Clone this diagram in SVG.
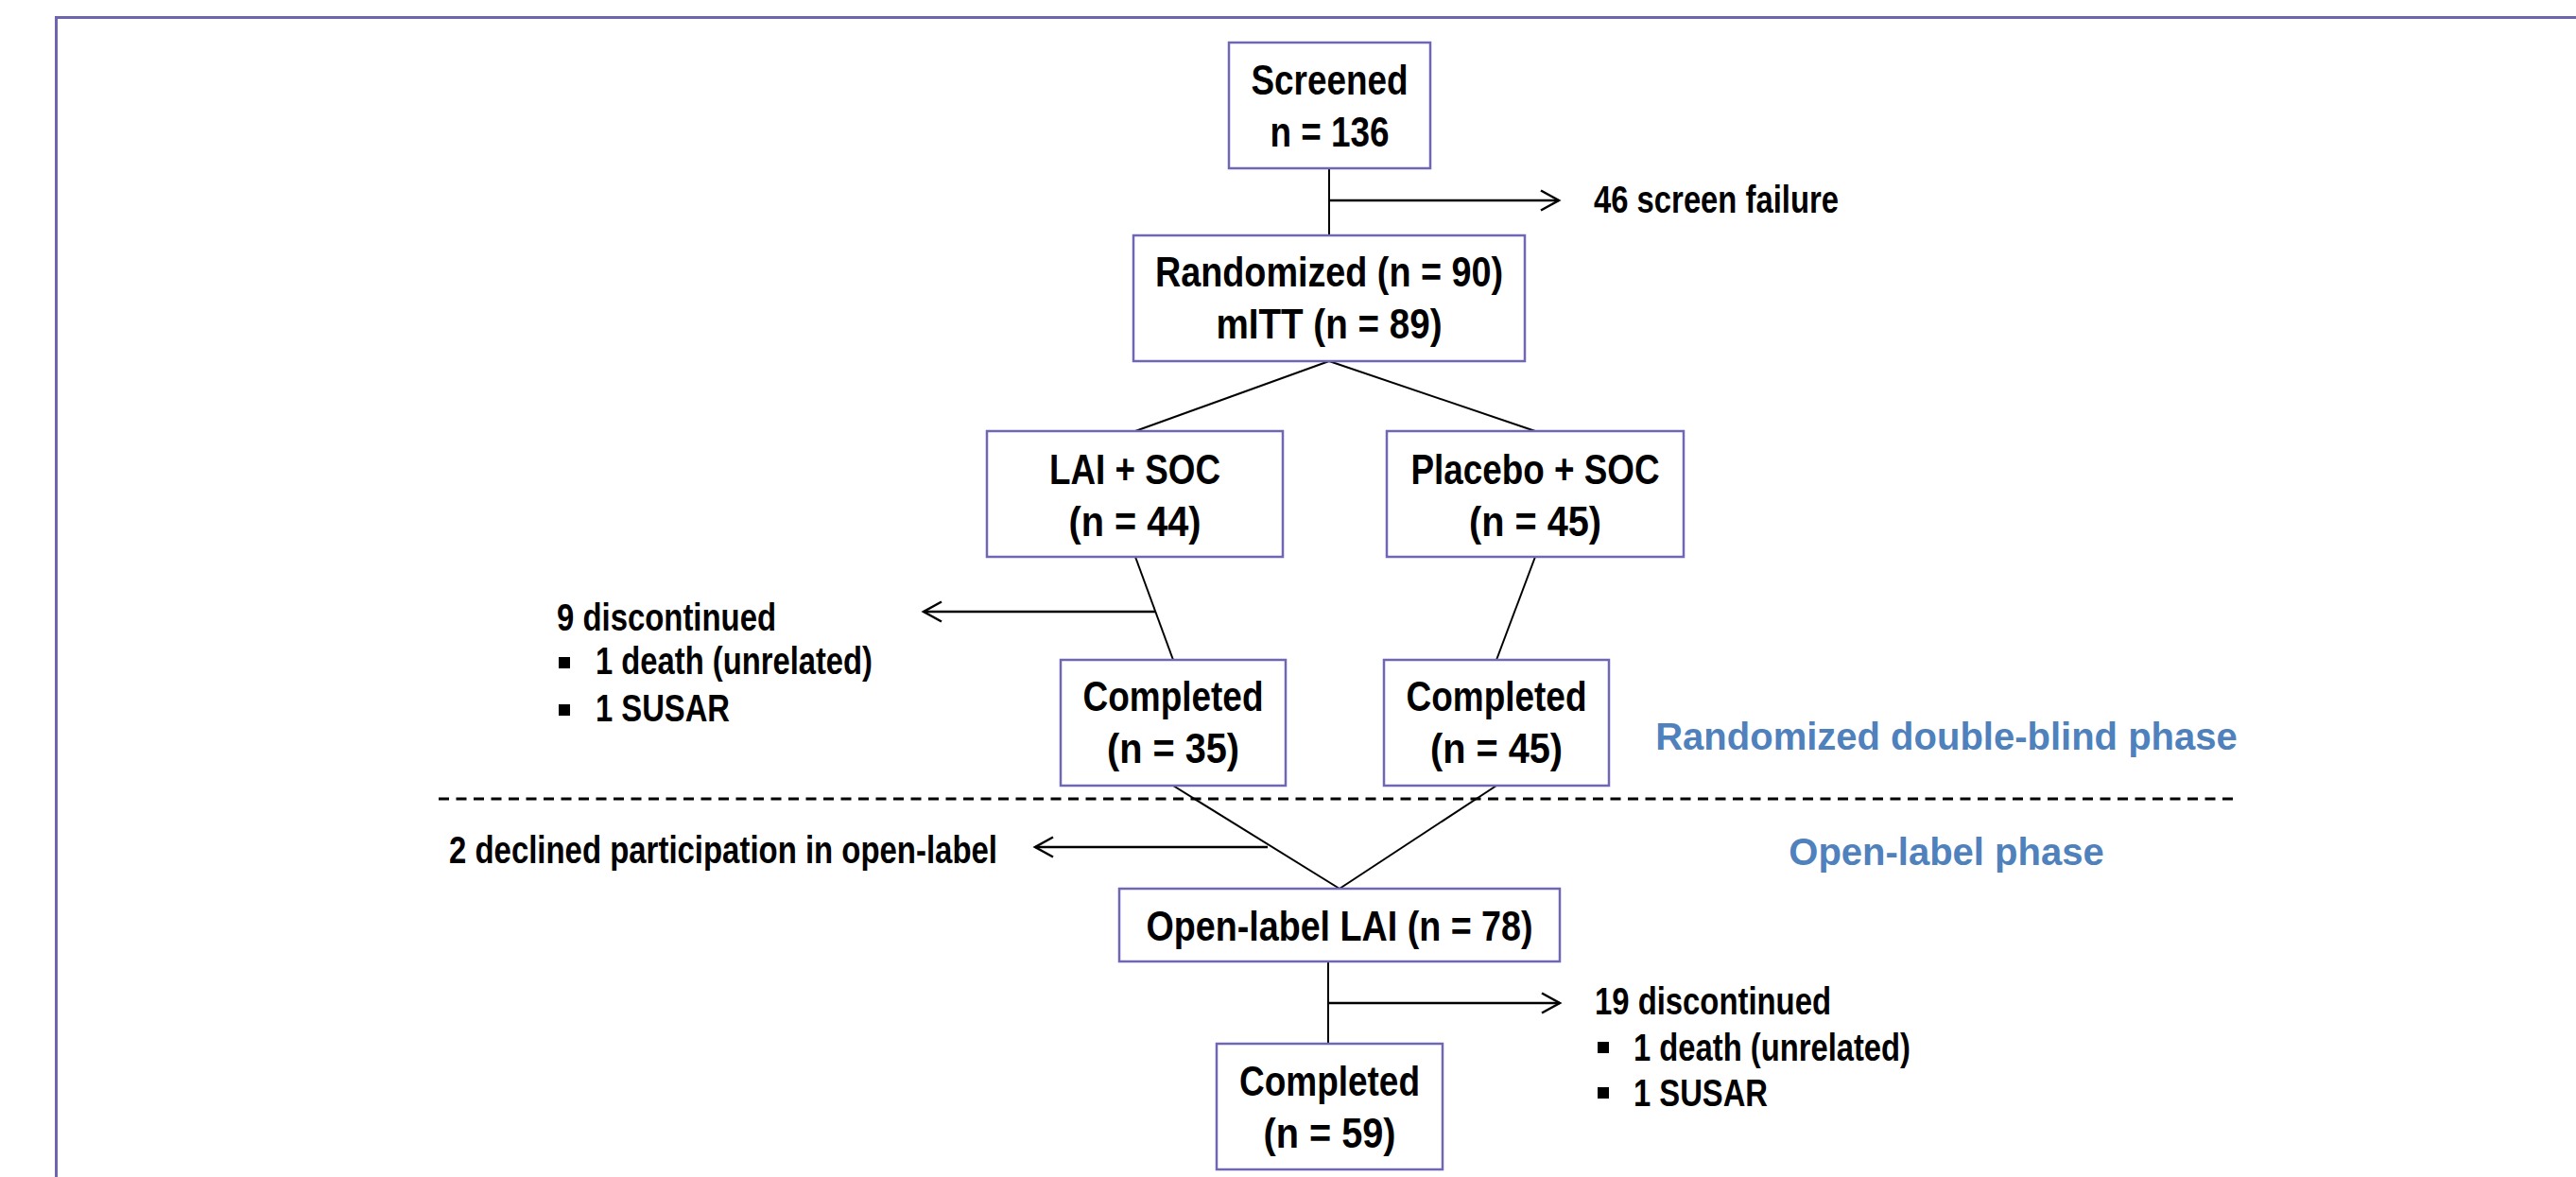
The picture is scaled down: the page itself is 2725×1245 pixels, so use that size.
<svg xmlns="http://www.w3.org/2000/svg" width="2725" height="1245" viewBox="0 0 2725 1245">
<style>
.box{fill:#ffffff;stroke:#6f67b3;stroke-width:2.5}
.t{font-family:'Liberation Sans Narrow','Arial Narrow','Liberation Sans',sans-serif;font-weight:bold;font-size:45px;fill:#000;text-anchor:middle}
.s{font-family:'Liberation Sans Narrow','Arial Narrow','Liberation Sans',sans-serif;font-weight:bold;font-size:40px;fill:#000}
.ph{font-family:'Liberation Sans',Arial,sans-serif;font-weight:bold;font-size:40px;fill:#4f81bd;text-anchor:middle}
.c{stroke:#000;stroke-width:2;fill:none}
.a{stroke:#000;stroke-width:2.5;fill:none;marker-end:url(#chev)}
</style>
<defs>
<marker id="chev" markerUnits="userSpaceOnUse" markerWidth="30" markerHeight="30" viewBox="-25 -15 30 30" refX="0" refY="0" orient="auto">
<path d="M-19,-10.5 L0,0 L-19,10.5" fill="none" stroke="#000" stroke-width="2.5"/>
</marker>
</defs>
<rect width="2725" height="1245" fill="#fff"/>
<path d="M59.5,1245 V18.5 H2725" fill="none" stroke="#6d65af" stroke-width="3"/>

<g id="connectors">
<line class="c" x1="1406" y1="178" x2="1406" y2="249"/>
<line class="a" x1="1406" y1="212" x2="1649" y2="212"/>
<line class="c" x1="1406" y1="382" x2="1201" y2="456"/>
<line class="c" x1="1406" y1="382" x2="1624" y2="456"/>
<line class="c" x1="1201" y1="589" x2="1241" y2="698"/>
<line class="c" x1="1624" y1="589" x2="1583" y2="698"/>
<line class="a" x1="1222" y1="647" x2="977" y2="647"/>
<line class="c" x1="1241" y1="831" x2="1417" y2="940"/>
<line class="c" x1="1583" y1="831" x2="1417" y2="940"/>
<line class="a" x1="1341" y1="896" x2="1095" y2="896"/>
<line class="c" x1="1405" y1="1017" x2="1405" y2="1104"/>
<line class="a" x1="1405" y1="1061" x2="1650" y2="1061"/>
<line x1="464" y1="845" x2="2362" y2="845" stroke="#000" stroke-width="3" stroke-dasharray="11 7.5"/>
</g>

<g id="screened">
<rect class="box" x="1300" y="45" width="213" height="133"/>
<text class="t" x="1406.5" y="100" textLength="166" lengthAdjust="spacingAndGlyphs">Screened</text>
<text class="t" x="1406.5" y="155" textLength="126" lengthAdjust="spacingAndGlyphs">n = 136</text>
</g>
<g id="screen-failure">
<text class="s" x="1686" y="225" textLength="259" lengthAdjust="spacingAndGlyphs">46 screen failure</text>
</g>
<g id="randomized">
<rect class="box" x="1199" y="249" width="414" height="133"/>
<text class="t" x="1406" y="303" textLength="368" lengthAdjust="spacingAndGlyphs">Randomized (n = 90)</text>
<text class="t" x="1406" y="358" textLength="239" lengthAdjust="spacingAndGlyphs">mITT (n = 89)</text>
</g>
<g id="lai-soc">
<rect class="box" x="1044" y="456" width="313" height="133"/>
<text class="t" x="1200.5" y="512" textLength="181" lengthAdjust="spacingAndGlyphs">LAI + SOC</text>
<text class="t" x="1200.5" y="567" textLength="140" lengthAdjust="spacingAndGlyphs">(n = 44)</text>
</g>
<g id="placebo-soc">
<rect class="box" x="1467" y="456" width="314" height="133"/>
<text class="t" x="1624" y="512" textLength="263" lengthAdjust="spacingAndGlyphs">Placebo + SOC</text>
<text class="t" x="1624" y="567" textLength="140" lengthAdjust="spacingAndGlyphs">(n = 45)</text>
</g>
<g id="discontinued-9">
<text class="s" x="589" y="667" textLength="232" lengthAdjust="spacingAndGlyphs">9 discontinued</text>
<rect x="591" y="695" width="12" height="12" fill="#000"/>
<text class="s" x="630" y="713" textLength="293" lengthAdjust="spacingAndGlyphs">1 death (unrelated)</text>
<rect x="591" y="745" width="12" height="12" fill="#000"/>
<text class="s" x="630" y="763" textLength="142" lengthAdjust="spacingAndGlyphs">1 SUSAR</text>
</g>
<g id="completed-lai">
<rect class="box" x="1122" y="698" width="238" height="133"/>
<text class="t" x="1241" y="752" textLength="191" lengthAdjust="spacingAndGlyphs">Completed</text>
<text class="t" x="1241" y="807" textLength="140" lengthAdjust="spacingAndGlyphs">(n = 35)</text>
</g>
<g id="completed-placebo">
<rect class="box" x="1464" y="698" width="238" height="133"/>
<text class="t" x="1583" y="752" textLength="191" lengthAdjust="spacingAndGlyphs">Completed</text>
<text class="t" x="1583" y="807" textLength="140" lengthAdjust="spacingAndGlyphs">(n = 45)</text>
</g>
<g id="phase-labels">
<text class="ph" x="2059" y="793">Randomized double-blind phase</text>
<text class="ph" x="2059" y="915">Open-label phase</text>
</g>
<g id="declined">
<text class="s" x="475" y="913" textLength="580" lengthAdjust="spacingAndGlyphs">2 declined participation in open-label</text>
</g>
<g id="open-label-lai">
<rect class="box" x="1184" y="940" width="466" height="77"/>
<text class="t" x="1417" y="995" textLength="409" lengthAdjust="spacingAndGlyphs">Open-label LAI (n = 78)</text>
</g>
<g id="discontinued-19">
<text class="s" x="1687" y="1073" textLength="250" lengthAdjust="spacingAndGlyphs">19 discontinued</text>
<rect x="1690" y="1102" width="12" height="12" fill="#000"/>
<text class="s" x="1728" y="1122" textLength="293" lengthAdjust="spacingAndGlyphs">1 death (unrelated)</text>
<rect x="1690" y="1150" width="12" height="12" fill="#000"/>
<text class="s" x="1728" y="1170" textLength="142" lengthAdjust="spacingAndGlyphs">1 SUSAR</text>
</g>
<g id="completed-final">
<rect class="box" x="1287" y="1104" width="239" height="133"/>
<text class="t" x="1406.5" y="1159" textLength="191" lengthAdjust="spacingAndGlyphs">Completed</text>
<text class="t" x="1406.5" y="1214" textLength="140" lengthAdjust="spacingAndGlyphs">(n = 59)</text>
</g>
</svg>
